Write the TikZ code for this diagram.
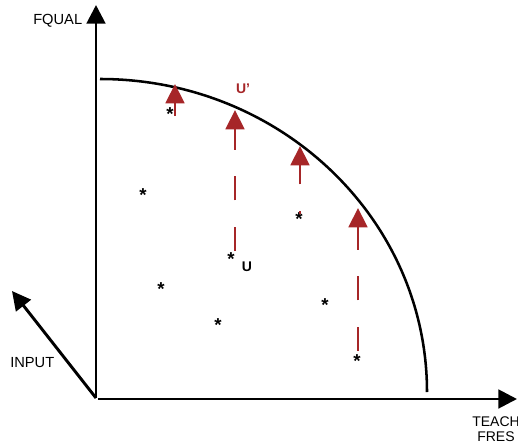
\documentclass[tikz,border=0pt]{standalone}
\usepackage{fontspec}
\setmainfont{Liberation Sans}
\usetikzlibrary{arrows.meta}
\definecolor{arrred}{RGB}{166,38,40}
\begin{document}
\begin{tikzpicture}[x=0.75pt,y=-0.75pt,
  axis/.style={line width=2.2pt,-{Triangle[length=14pt,width=14pt]}},
  frontier/.style={line width=1.9pt},
  redarrow/.style={draw=arrred,line width=2.2pt,-{Triangle[length=14.5pt,width=14pt]}},
  dashedarrow/.style={redarrow,dash pattern=on 18pt off 20pt},
  starmark/.style={font=\bfseries\fontsize{14}{14}\selectfont,anchor=base,inner sep=0pt},
  axlabel/.style={font=\fontsize{11}{11}\selectfont,anchor=base west,inner sep=0pt},
  ptlabel/.style={font=\bfseries\fontsize{10.5}{10.5}\selectfont,anchor=base,inner sep=0pt}]
\useasboundingbox (0,0) rectangle (518,446);
% axes
\coordinate (O) at (96,398);
\coordinate (ytip) at (96,5);
\coordinate (xstart) at (98,399);
\coordinate (xtip) at (517,399);
\coordinate (itip) at (12,291);
\draw[axis] (O) -- (ytip);
\draw[axis] (xstart) -- (xtip);
\draw[axis] (O) -- (itip);
% frontier
\coordinate (fstart) at (100,79);
\draw[frontier] (fstart) arc[start angle=-90,end angle=0,x radius=327,y radius=313];
% labels
\node[axlabel] (fqual) at (33,24) {FQUAL};
\node[axlabel] (input) at (10,367) {INPUT};
\node[axlabel,font=\fontsize{10.5}{10.5}\selectfont] (teach) at (472,426) {TEACH};
\node[axlabel,font=\fontsize{10.5}{10.5}\selectfont] (fres) at (477,441) {FRES};
\node[ptlabel,text=arrred] (uprime) at (243,93) {U’};
\node[ptlabel] (u) at (247,271) {U};
% stars
\foreach \n/\x/\y in {s1/170/112, s2/143/193, s3/299/217, s4/231/257, s5/161/287, s6/325/303, s7/218/323, s8/357/359}
  \node[starmark] (\n) at (\x,\y+8) {*};
% red arrows
\coordinate (a1s) at (175,116); \coordinate (a1t) at (175,84);
\coordinate (a2s) at (235,251); \coordinate (a2t) at (235,110);
\coordinate (a3s) at (300,214); \coordinate (a3t) at (300,146);
\coordinate (a4s) at (358,351); \coordinate (a4t) at (358,208);
\draw[redarrow] (a1s) -- (a1t);
\draw[dashedarrow] (a2s) -- (a2t);
\draw[dashedarrow,dash phase=15.75pt] (a3s) -- (a3t);
\draw[dashedarrow] (a4s) -- (a4t);
\end{tikzpicture}
\end{document}
